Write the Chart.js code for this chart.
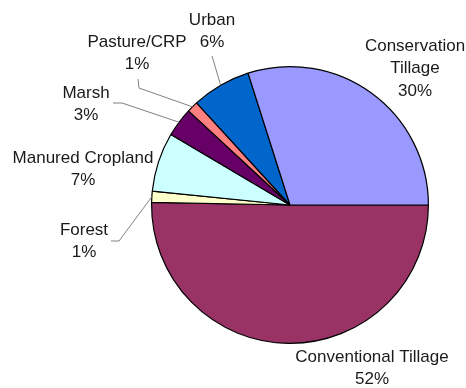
<!DOCTYPE html>
<html>
<head>
<meta charset="utf-8">
<script src="https://cdn.jsdelivr.net/npm/chart.js@4"></script>
<style>
  html, body { margin: 0; padding: 0; background: #ffffff; }
  #wrap { width: 466px; height: 388px; }
</style>
</head>
<body>
<div id="wrap"><canvas id="landUse" width="466" height="388"></canvas></div>
<script>
// Land use, clockwise from 3 o'clock
const categories = ['Conventional Tillage', 'Forest', 'Manured Cropland', 'Marsh', 'Pasture/CRP', 'Urban', 'Conservation Tillage'];
// slice sizes as drawn (measured from the wedge angles)
const sliceShares = [50.3, 1.3, 6.9, 3.4, 1.3, 6.9, 29.9];
// percentages as printed on the labels
const shownPercents = ['52%', '1%', '7%', '3%', '1%', '6%', '30%'];
const sliceColors = ['#993366', '#FFFFCC', '#CCFFFF', '#660066', '#FF8080', '#0066CC', '#9999FF'];

// Label placement: text lines centred at x, first line at y; optional leader path
const labelLayout = [
    { lines: ['Conventional Tillage'], x: 372, y: 357 },
    { lines: ['Forest'], x: 84, y: 230, leader: [[111, 241], [119, 241]] },
    { lines: ['Manured Cropland'], x: 83, y: 158 },
    { lines: ['Marsh'], x: 86, y: 93, leader: [[113, 103], [122, 103]] },
    { lines: ['Pasture/CRP'], x: 137, y: 42, leader: [[138, 79], [139, 88]] },
    { lines: ['Urban'], x: 212, y: 20, leader: [[212, 56]] },
    { lines: ['Conservation', 'Tillage'], x: 415, y: 46 }
];

const pieLabels = {
    id: 'pieLabels',
    afterDraw(chart) {
        const ctx = chart.ctx;
        const arcs = chart.getDatasetMeta(0).data;
        ctx.save();
        // leader lines
        ctx.strokeStyle = '#808080';
        ctx.lineWidth = 1;
        labelLayout.forEach((lab, i) => {
            if (!lab.leader) return;
            const arc = arcs[i];
            const mid = (arc.startAngle + arc.endAngle) / 2;
            const ex = arc.x + Math.cos(mid) * arc.outerRadius;
            const ey = arc.y + Math.sin(mid) * arc.outerRadius;
            ctx.beginPath();
            ctx.moveTo(lab.leader[0][0], lab.leader[0][1]);
            lab.leader.slice(1).forEach(p => ctx.lineTo(p[0], p[1]));
            ctx.lineTo(ex, ey);
            ctx.stroke();
        });
        // texts
        ctx.fillStyle = '#1a1a1a';
        ctx.font = '17px "Liberation Sans", Arial, sans-serif';
        ctx.textAlign = 'center';
        ctx.textBaseline = 'middle';
        labelLayout.forEach((lab, i) => {
            const lines = lab.lines.concat([shownPercents[i]]);
            lines.forEach((t, k) => ctx.fillText(t, lab.x, lab.y + k * 22.5));
        });
        ctx.restore();
    }
};

new Chart(document.getElementById('landUse'), {
    type: 'pie',
    data: {
        labels: categories,
        datasets: [{
            data: sliceShares,
            backgroundColor: sliceColors,
            borderColor: '#000000',
            borderWidth: 1.2
        }]
    },
    options: {
        responsive: false,
        animation: false,
        rotation: 90,
        layout: {
            padding: { left: 151, right: 37, top: 66, bottom: 44 }
        },
        plugins: {
            legend: { display: false },
            tooltip: { enabled: false }
        }
    },
    plugins: [pieLabels]
});
</script>
</body>
</html>
